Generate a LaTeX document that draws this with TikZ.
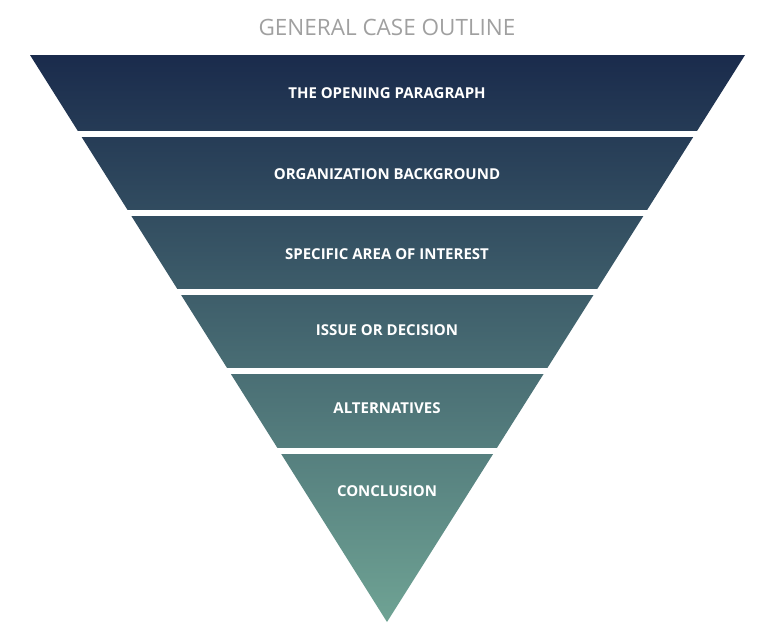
\documentclass[tikz,border=0pt]{standalone}
\usepackage{fontspec}
\setmainfont{Open Sans}
\usetikzlibrary{positioning}
\definecolor{topc}{HTML}{1A2B4C}
\definecolor{botc}{HTML}{6FA394}
\definecolor{titlec}{HTML}{A0A0A0}
\tikzset{lbl/.append style={text=white, font=\fontsize{15}{18}\selectfont\bfseries}}
\tikzset{gap/.append style={draw=white, line width=6pt}}

\begin{document}
\begin{tikzpicture}[x=1pt,y=-1pt]
                \useasboundingbox (0,0) rectangle (771,632);
                % funnel
                \begin{scope}
                \clip (30,55) -- (745,55) -- (387,622) -- cycle;
                \shade[top color=topc, bottom color=botc] (0,55) rectangle (771,622);
                \end{scope}
                \draw[gap] (0,133.5) -- (771,133.5);
                \draw[gap] (0,213) -- (771,213);
                \draw[gap] (0,292) -- (771,292);
                \draw[gap] (0,371) -- (771,371);
                \draw[gap] (0,451) -- (771,451);
                % labels
                \node[text=titlec, font=\fontsize{22.5}{26}\selectfont] (title) at (387,27) {GENERAL CASE OUTLINE};
                \node[lbl] (open) at (387,93) {THE OPENING PARAGRAPH};
                \node[lbl] (org) at (387,174) {ORGANIZATION BACKGROUND};
                \node[lbl] (area) at (387,254) {SPECIFIC AREA OF INTEREST};
                \node[lbl] (issue) at (387,330) {ISSUE OR DECISION};
                \node[lbl] (alt) at (387,408) {ALTERNATIVES};
                \node[lbl] (concl) at (387,491) {CONCLUSION};
            \end{tikzpicture}
\end{document}
